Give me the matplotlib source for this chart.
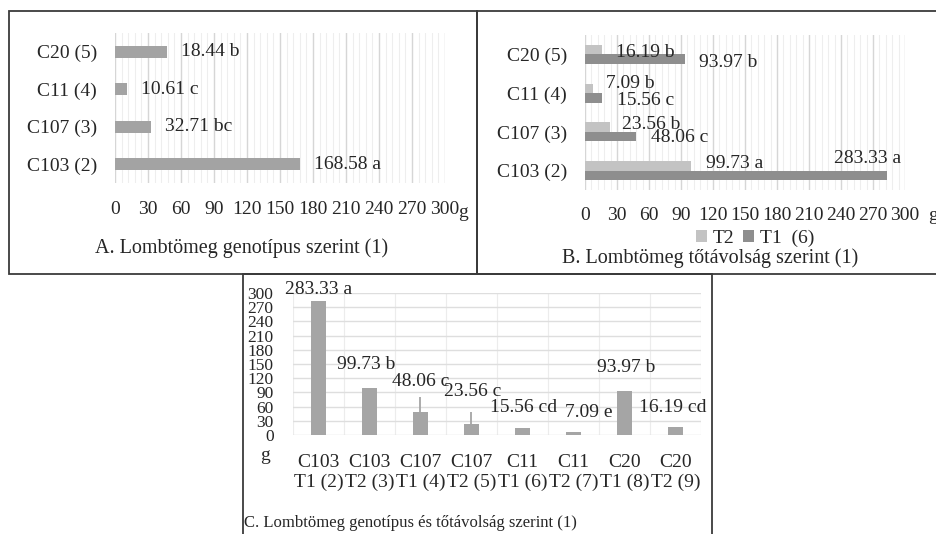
import matplotlib
matplotlib.use("Agg")
import matplotlib.pyplot as plt
from matplotlib.patches import Rectangle
import numpy as np

#------
#data

# panel A: foliage mass by genotype
genotypes = ["C103 (2)", "C107 (3)", "C11 (4)", "C20 (5)"]
mass_a = [168.58, 32.71, 10.61, 47.5]   # C20 bar is drawn longer than its label
labels_a = ["168.58 a", "32.71 bc", "10.61 c", "18.44 b"]

# panel B: foliage mass by plant spacing
mass_t1 = [283.33, 48.06, 15.56, 93.97]
mass_t2 = [99.73, 23.56, 7.09, 16.19]
labels_t1 = ["283.33 a", "48.06 c", "15.56 c", "93.97 b"]
labels_t2 = ["99.73 a", "23.56 b", "7.09 b", "16.19 b"]

# panel C: genotype x spacing
groups_c = ["C103\nT1 (2)", "C103\nT2 (3)", "C107\nT1 (4)", "C107\nT2 (5)",
            "C11\nT1 (6)", "C11\nT2 (7)", "C20\nT1 (8)", "C20\nT2 (9)"]
mass_c = [283.33, 99.73, 48.06, 23.56, 15.56, 7.09, 93.97, 16.19]
err_c = [0, 0, 32, 25, 0, 0, 0, 0]
labels_c = ["283.33 a", "99.73 b", "48.06 c", "23.56 c",
            "15.56 cd", "7.09 e", "93.97 b", "16.19 cd"]

#------
#style

W, H = 937, 534
txt = "#262626"
plt.rcParams["font.family"] = ["Liberation Serif", "DejaVu Serif"]
plt.rcParams["text.color"] = txt
plt.rcParams["xtick.color"] = txt
plt.rcParams["ytick.color"] = txt

def rect(l, t, r, b):
    return [l / W, 1 - b / H, (r - l) / W, (b - t) / H]

def fx(x):
    return x / W

def fy(y):
    return 1 - y / H

def clean(ax):
    for s in ax.spines.values():
        s.set_visible(False)
    ax.tick_params(length=0, which="both")
    ax.set_axisbelow(True)

fig = plt.figure(figsize=(W / 100, H / 100), dpi=100)

# panel frames
for l, t, r, b in [(9, 11, 477, 274), (477, 11, 940, 274), (243, 274, 712, 540)]:
    fig.add_artist(Rectangle((fx(l), fy(b)), (r - l) / W, (b - t) / H,
                             transform=fig.transFigure, fill=False,
                             edgecolor="#3a3a3a", linewidth=1.3))

#------
#panel A
axa = fig.add_axes(rect(115, 33, 445, 183))
ya = np.arange(len(genotypes))
axa.barh(ya, mass_a, height=0.33, color="#a3a3a3")
axa.set_xlim(0, 300)
axa.set_ylim(-0.5, 3.5)
axa.set_xticks(np.arange(0, 301, 30))
axa.set_xticks(np.arange(0, 301, 6), minor=True)
axa.set_yticks(ya)
axa.set_yticklabels(genotypes)
axa.grid(axis="x", which="major", color="#d6d6d6", linewidth=1)
axa.grid(axis="x", which="minor", color="#eeeeee", linewidth=0.8)
clean(axa)
axa.tick_params(axis="x", pad=13, labelsize=14)
axa.tick_params(axis="y", pad=13, labelsize=14)
for yi, v, lab in zip(ya, mass_a, labels_a):
    axa.annotate(lab, (v, yi), xytext=(14, 0), textcoords="offset pixels",
                 ha="left", va="center", fontsize=14)
fig.text(fx(463), fy(212), "g", fontsize=14, ha="center", va="center")
fig.text(fx(242), fy(248), "A. Lombtömeg genotípus szerint (1)",
         fontsize=14.5, ha="center", va="center")

#------
#panel B
axb = fig.add_axes(rect(585, 35, 905, 190))
yb = np.arange(len(genotypes))
bt2 = axb.barh(yb + 0.125, mass_t2, height=0.245, color="#c3c3c3", label="T2")
bt1 = axb.barh(yb - 0.125, mass_t1, height=0.245, color="#8e8e8e", label="T1  (6)")
axb.set_xlim(0, 300)
axb.set_ylim(-0.5, 3.5)
axb.set_xticks(np.arange(0, 301, 30))
axb.set_xticks(np.arange(0, 301, 6), minor=True)
axb.set_yticks(yb)
axb.set_yticklabels(genotypes)
axb.grid(axis="x", which="major", color="#d6d6d6", linewidth=1)
axb.grid(axis="x", which="minor", color="#eeeeee", linewidth=0.8)
clean(axb)
axb.tick_params(axis="x", pad=12, labelsize=14)
axb.tick_params(axis="y", pad=13, labelsize=14)

# label offsets in pixels (dx, dy), as placed in the original
off_t2 = [(15, 2), (12, 3), (13, 5), (14, -3)]
off_t1 = [(-20, 17), (15, -1), (15, -3), (14, -3)]
for yi, v, lab, (dx, dy) in zip(yb, mass_t2, labels_t2, off_t2):
    axb.annotate(lab, (v, yi + 0.125), xytext=(dx, dy), textcoords="offset pixels",
                 ha="left", va="center", fontsize=14)
for i, (yi, v, lab, (dx, dy)) in enumerate(zip(yb, mass_t1, labels_t1, off_t1)):
    axb.annotate(lab, (v, yi - 0.125), xytext=(dx, dy), textcoords="offset pixels",
                 ha="center" if i == 0 else "left", va="center", fontsize=14)
fig.text(fx(933), fy(216), "g", fontsize=14, ha="center", va="center")
fig.legend(handles=[bt2, bt1], loc="center", bbox_to_anchor=(fx(755), fy(238)),
           ncol=2, frameon=False, fontsize=14, handlelength=0.6, handleheight=0.6,
           handletextpad=0.3, columnspacing=0.4, borderpad=0)
fig.text(fx(710), fy(258), "B. Lombtömeg tőtávolság szerint (1)",
         fontsize=14.5, ha="center", va="center")

#------
#panel C
axc = fig.add_axes(rect(293, 293, 701, 435))
xc = np.arange(len(groups_c))
axc.bar(xc, mass_c, width=0.31, color="#a5a5a5")
yerr_lo = np.zeros(len(err_c))
has_err = np.array(err_c) > 0
axc.errorbar(xc[has_err], np.array(mass_c)[has_err],
             yerr=[yerr_lo[has_err], np.array(err_c)[has_err]],
             fmt="none", ecolor="#a5a5a5", elinewidth=1.3, capsize=0)
axc.set_xlim(-0.5, 7.5)
axc.set_ylim(0, 300)
axc.set_yticks(np.arange(0, 301, 30))
axc.set_xticks(xc)
axc.set_xticks(np.arange(-0.5, 7.6, 0.5), minor=True)
axc.set_xticklabels(groups_c, linespacing=1.15)
axc.grid(axis="y", which="major", color="#dedede", linewidth=1)
axc.grid(axis="x", which="minor", color="#ececec", linewidth=0.8)
clean(axc)
axc.tick_params(axis="x", pad=14, labelsize=14)
axc.tick_params(axis="y", pad=14, labelsize=12.5)

off_c = [(0, 11), (-3, 23), (0, 31), (1, 32), (1, 20), (15, 19), (2, 23), (-3, 20)]
for xi, v, lab, (dx, dy) in zip(xc, mass_c, labels_c, off_c):
    axc.annotate(lab, (xi, v), xytext=(dx, dy), textcoords="offset pixels",
                 ha="center", va="center", fontsize=14)
fig.text(fx(265), fy(456), "g", fontsize=14, ha="center", va="center")
fig.text(fx(410), fy(523), "C. Lombtömeg genotípus és tőtávolság szerint (1)",
         fontsize=12, ha="center", va="center")

fig.savefig("out.png", dpi=100, facecolor="white")
